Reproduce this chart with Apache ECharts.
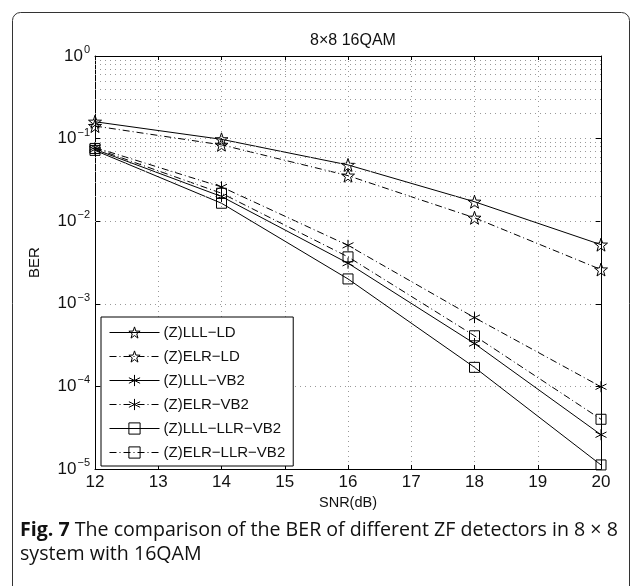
<!DOCTYPE html>
<html>
<head>
<meta charset="utf-8">
<script src="https://cdn.jsdelivr.net/npm/echarts@6/dist/echarts.min.js"></script>
<style>
html, body { margin: 0; padding: 0; background: #fff; }
#chart { width: 637px; height: 586px; }
</style>
</head>
<body>
<div id="chart"></div>
<script>
// SNR points (dB)
var snr = [12, 14, 16, 18, 20];

// BER values
var lllLd     = [0.160, 0.098, 0.048, 0.0172, 0.0052];
var elrLd     = [0.142, 0.084, 0.0356, 0.011, 0.0026];
var lllVb2    = [0.074, 0.0199, 0.0031, 0.00033, 0.000026];
var elrVb2    = [0.078, 0.026, 0.0051, 0.00068, 0.000099];
var lllLlrVb2 = [0.072, 0.0165, 0.0020, 0.00017, 0.0000112];
var elrLlrVb2 = [0.076, 0.0218, 0.0037, 0.00041, 0.000040];

var seriesNames = ['(Z)LLL\u2212LD', '(Z)ELR\u2212LD', '(Z)LLL\u2212VB2', '(Z)ELR\u2212VB2', '(Z)LLL\u2212LLR\u2212VB2', '(Z)ELR\u2212LLR\u2212VB2'];
var dashedFlags = [false, true, false, true, false, true];

var STAR = 'path://M0,-10L2.35,-3.24L9.51,-3.09L3.8,1.24L5.88,8.09L0,4L-5.88,8.09L-3.8,1.24L-9.51,-3.09L-2.35,-3.24Z';
var AST = 'path://M0,-10L0,10M-8.66,-5L8.66,5M-8.66,5L8.66,-5';
var DASHDOT = [7, 3, 1, 3];

// minor grid positions on the log axis (2..9 x 10^e)
var minorLines = [];
for (var e = -5; e < 0; e++) {
	for (var k = 2; k <= 9; k++) {
		minorLines.push({yAxis: k * Math.pow(10, e)});
	}
}

function pairs(vals) {
	return snr.map(function(x, i) { return [x, vals[i]]; });
}

function mkSeries(name, vals, symbol, size, dashed) {
	return {
		name: name,
		type: 'line',
		data: pairs(vals),
		symbol: symbol,
		symbolSize: size,
		showAllSymbol: true,
		lineStyle: {color: '#000', width: 1, type: dashed ? DASHDOT : 'solid'},
		itemStyle: {color: 'transparent', borderColor: '#000', borderWidth: 1},
		emphasis: {disabled: true}
	};
}

var chart = echarts.init(document.getElementById('chart'));

var series = [
	mkSeries(seriesNames[0], lllLd, STAR, 13, false),
	mkSeries(seriesNames[1], elrLd, STAR, 13, true),
	mkSeries(seriesNames[2], lllVb2, AST, 11, false),
	mkSeries(seriesNames[3], elrVb2, AST, 11, true),
	mkSeries(seriesNames[4], lllLlrVb2, 'rect', 10, false),
	mkSeries(seriesNames[5], elrLlrVb2, 'rect', 10, true)
];
series[0].markLine = {
	silent: true,
	symbol: 'none',
	animation: false,
	label: {show: false},
	lineStyle: {color: '#999', width: 1, type: [1, 4]},
	data: minorLines
};

var legendData = seriesNames.map(function(n, i) {
	return {
		name: n,
		itemStyle: {color: 'transparent', borderColor: '#000', borderWidth: 1},
		lineStyle: {color: '#000', width: 1, type: dashedFlags[i] ? DASHDOT : 'solid'}
	};
});

var gridLine = {show: true, lineStyle: {color: '#999', width: 1, type: [1, 4]}};

var option = {
	animation: false,
	title: {
		text: '8\u00d78 16QAM',
		left: 348,
		top: 28,
		textAlign: 'center',
		textStyle: {fontFamily: 'Liberation Sans', fontSize: 16, fontWeight: 'normal', color: '#111'}
	},
	grid: {left: 95, right: 36, top: 56, bottom: 117},
	legend: {
		orient: 'vertical',
		left: 101,
		top: 317,
		padding: [8, 8, 6, 8],
		itemGap: 9,
		itemWidth: 50,
		itemHeight: 14,
		backgroundColor: '#fff',
		borderColor: '#000',
		borderWidth: 1,
		borderRadius: 0,
		data: legendData,
		textStyle: {fontFamily: 'Liberation Sans', fontSize: 15, color: '#111', padding: [0, 0, 0, -1]}
	},
	xAxis: [{
		type: 'value',
		min: 12,
		max: 20,
		interval: 1,
		name: 'SNR(dB)',
		nameLocation: 'middle',
		nameGap: 26,
		nameTextStyle: {fontFamily: 'Liberation Sans', fontSize: 14.5, color: '#111'},
		axisLine: {show: true, lineStyle: {color: '#000', width: 1}},
		axisTick: {show: true, inside: true, length: 4, lineStyle: {color: '#000'}},
		axisLabel: {fontFamily: 'Liberation Sans', fontSize: 17, color: '#111', margin: 5},
		splitLine: gridLine
	}, {
		type: 'value',
		position: 'top',
		min: 12,
		max: 20,
		interval: 1,
		axisLine: {show: true, lineStyle: {color: '#000', width: 1}},
		axisTick: {show: true, inside: true, length: 4, lineStyle: {color: '#000'}},
		axisLabel: {show: false},
		splitLine: {show: false}
	}],
	yAxis: [{
		type: 'log',
		logBase: 10,
		min: 1e-5,
		max: 1,
		name: 'BER',
		nameLocation: 'middle',
		nameGap: 53,
		nameTextStyle: {fontFamily: 'Liberation Sans', fontSize: 15, color: '#111'},
		axisLine: {show: true, lineStyle: {color: '#000', width: 1}},
		axisTick: {show: true, inside: true, length: 5, lineStyle: {color: '#000'}},
		axisLabel: {
			margin: 5,
			formatter: function(v) {
				var ex = Math.round(Math.log10(v));
				return '{b|10}{s|' + (ex < 0 ? '\u2212' + (-ex) : ex) + '}';
			},
			rich: {
				b: {fontFamily: 'Liberation Sans', fontSize: 17, color: '#111'},
				s: {fontFamily: 'Liberation Sans', fontSize: 11, color: '#111', padding: [0, 0, 12, 1]}
			}
		},
		splitLine: gridLine
	}, {
		type: 'log',
		logBase: 10,
		min: 1e-5,
		max: 1,
		position: 'right',
		axisLine: {show: true, lineStyle: {color: '#000', width: 1}},
		axisTick: {show: true, inside: true, length: 5, lineStyle: {color: '#000'}},
		axisLabel: {show: false},
		splitLine: {show: false}
	}],
	graphic: [{
		type: 'rect',
		shape: {x: 12.5, y: 12.5, width: 617, height: 620, r: 8},
		style: {fill: 'none', stroke: '#333', lineWidth: 1},
		silent: true
	}, {
		type: 'text',
		left: 20,
		top: 520,
		style: {
			text: '{b|Fig. 7} The comparison of the BER of different ZF detectors in 8 \u00d7 8',
			rich: {b: {fontWeight: 'bold', fontFamily: 'Open Sans', fontSize: 19.6, fill: '#111'}},
			font: '19.6px "Open Sans"',
			fill: '#111'
		}
	}, {
		type: 'text',
		left: 20,
		top: 544,
		style: {
			text: 'system with 16QAM',
			font: '19.6px "Open Sans"',
			fill: '#111'
		}
	}],
	series: series
};

chart.setOption(option);
</script>
</body>
</html>
